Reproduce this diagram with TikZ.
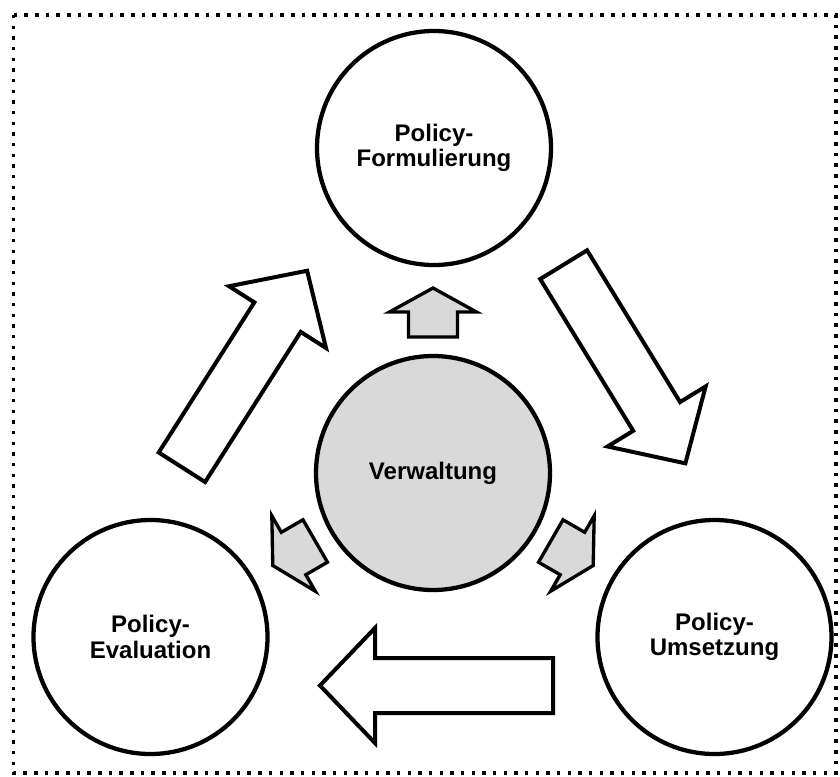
\documentclass[tikz,border=0pt]{standalone}
\usepackage{fontspec}
\setmainfont{Liberation Sans}
\definecolor{corefill}{HTML}{D9D9D9}
\begin{document}
\begin{tikzpicture}[x=0.75pt,y=-0.75pt,
  phase/.style={circle, draw, line width=3.2pt, minimum size=175.5pt, inner sep=0pt,
    fill=white, align=center, font=\fontsize{18}{19}\selectfont\bfseries},
  core/.style={phase, fill=corefill},
  bigarrow/.style={draw, line width=3pt, fill=white, line join=miter},
  smallarrow/.style={draw, line width=2.5pt, fill=corefill, line join=miter},
  frame/.style={line width=2.6pt, dash pattern=on 2.6pt off 5.4pt}]
\useasboundingbox (0,0) rectangle (840,776);
% dotted outer frame
\draw[frame] (13.5,15) rectangle (836,773);

% the four circles
\node[core]  (verw) at (433,473)   {Verwaltung};
\node[phase] (form) at (434,148)   {Policy-\\Formulierung};
\node[phase] (eval) at (150.5,637) {Policy-\\Evaluation};
\node[phase] (ums)  at (714.5,637) {Policy-\\Umsetzung};

% small grey arrows radiating from the centre circle
\foreach \ang in {90,210,-30}{
  \begin{scope}[shift={(verw.center)}, rotate=\ang]
    \draw[smallarrow] (136,-24.5) -- (161,-24.5) -- (161,-43.5) -- (185,0)
      -- (161,43.5) -- (161,24.5) -- (136,24.5) -- cycle;
  \end{scope}
}

% large cycle arrows between the outer circles
\foreach \px/\py/\ang in {624.5/364/-58.5, 436.5/685.5/180, 244.5/369/57.5}{
  \begin{scope}[shift={(\px,\py)}, rotate=\ang]
    \draw[bigarrow] (-116.5,-27.5) -- (61.5,-27.5) -- (61.5,-57.5) -- (116.5,0)
      -- (61.5,57.5) -- (61.5,27.5) -- (-116.5,27.5) -- cycle;
  \end{scope}
}
\end{tikzpicture}
\end{document}
